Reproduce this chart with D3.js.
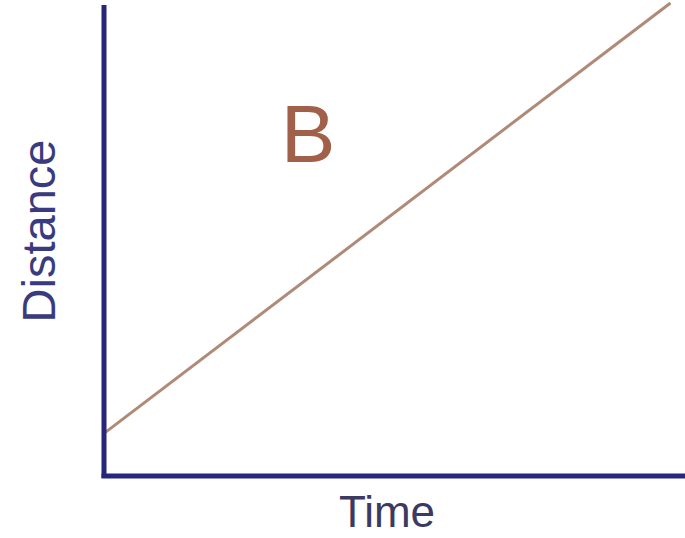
<!DOCTYPE html>
<html lang="en">
<head>
    <meta charset="UTF-8">
    <title>Distance-time graph B</title>
    <script src="https://d3js.org/d3.v7.min.js"></script>
    <style>
        body { margin: 0; background: #fff; }
        svg { display: block; }
    </style>
</head>
<body>
<script>
    var svgwidth = 685;
    var svgheight = 538;

    // straight line: constant speed, starting some distance away from zero
    var times = [0, 9.75];
    var distances = [0.9, 10];
    var xLabel = 'Time';
    var yLabel = 'Distance';
    var graphLabel = 'B';

    var points = times.map((t, i) => ({ t: t, d: distances[i] }));

    var svg = d3.select('body').append('svg')
        .attr('width', svgwidth)
        .attr('height', svgheight);

    var x = d3.scaleLinear().domain([0, 10]).range([104, 685]);
    var y = d3.scaleLinear().domain([0, 10]).range([476, 3]);

    // the line, drawn first so the axes sit on top of it
    var line = d3.line().x(d => x(d.t)).y(d => y(d.d));
    svg.append('path')
        .datum(points)
        .attr('d', line)
        .attr('fill', 'none')
        .attr('stroke', '#b08a78')
        .attr('stroke-width', 3);

    // axes without ticks, just the two thick lines
    svg.append('line')
        .attr('x1', x(0)).attr('x2', x(0))
        .attr('y1', 5).attr('y2', y(0) + 2)
        .attr('stroke', '#26267a')
        .attr('stroke-width', 5);

    svg.append('line')
        .attr('x1', x(0) - 2.5).attr('x2', svgwidth)
        .attr('y1', y(0)).attr('y2', y(0))
        .attr('stroke', '#26267a')
        .attr('stroke-width', 5);

    svg.append('text')
        .attr('x', 387)
        .attr('y', 527)
        .attr('text-anchor', 'middle')
        .style('font-family', 'Liberation Sans, Arial, sans-serif')
        .style('font-size', '44px')
        .style('fill', '#3a3a62')
        .text(xLabel);

    svg.append('text')
        .attr('transform', 'translate(55,231) rotate(-90)')
        .attr('text-anchor', 'middle')
        .style('font-family', 'Liberation Sans, Arial, sans-serif')
        .style('font-size', '47px')
        .style('fill', '#3a3a80')
        .text(yLabel);

    svg.append('text')
        .attr('x', 308)
        .attr('y', 162)
        .attr('text-anchor', 'middle')
        .style('font-family', 'Liberation Sans, Arial, sans-serif')
        .style('font-size', '82px')
        .style('fill', '#a0604a')
        .text(graphLabel);
</script>
</body>
</html>
